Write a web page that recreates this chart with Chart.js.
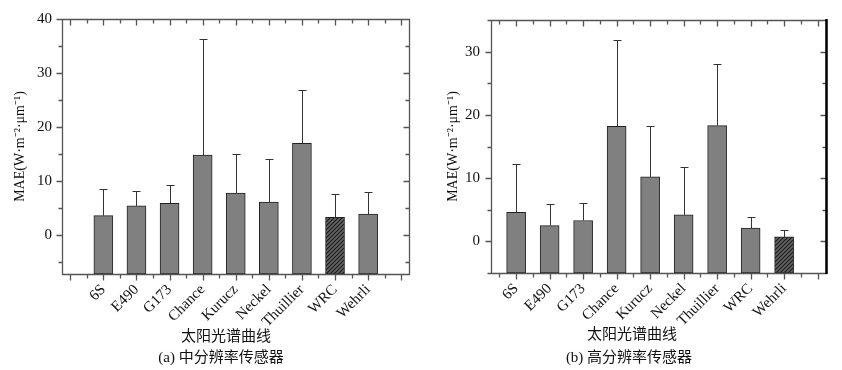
<!DOCTYPE html>
<html>
<head>
<meta charset="utf-8">
<script src="https://cdn.jsdelivr.net/npm/chart.js@4/dist/chart.umd.min.js"></script>
<style>
  body { margin: 0; background: #fff; }
  canvas { position: absolute; top: 0; }
  #chart-a { left: 0; }
  #chart-b { left: 421px; }
</style>
</head>
<body>
<canvas id="chart-a" width="421" height="370"></canvas>
<canvas id="chart-b" width="421" height="370"></canvas>
<script>
var categories = ['6S', 'E490', 'G173', 'Chance', 'Kurucz', 'Neckel', 'Thuillier', 'WRC', 'Wehrli'];

// (a) medium resolution sensor: MAE and standard deviation
var maeMid = [3.6, 5.4, 5.9, 14.8, 7.8, 6.1, 17.0, 3.3, 3.9];
var sdMid = [4.9, 2.8, 3.3, 21.5, 7.3, 8.0, 9.9, 4.4, 4.0];
var hatchMid = 'WRC';

// (b) high resolution sensor
var maeHigh = [4.6, 2.5, 3.3, 18.2, 10.2, 4.2, 18.3, 2.1, 0.7];
var sdHigh = [7.6, 3.4, 2.8, 13.7, 8.1, 7.6, 9.8, 1.7, 1.1];
var hatchHigh = 'Wehrli';

var FONT = "'Liberation Serif', 'Noto Sans CJK SC', serif";
var BAR = '#808080';

function hatchPattern() {
    var c = document.createElement('canvas');
    c.width = 4; c.height = 4;
    var g = c.getContext('2d');
    g.fillStyle = '#666';
    g.fillRect(0, 0, 4, 4);
    g.strokeStyle = '#1a1a1a';
    g.lineWidth = 1.2;
    g.beginPath();
    g.moveTo(-1, 5); g.lineTo(5, -1);
    g.moveTo(-1, 1); g.lineTo(1, -1);
    g.moveTo(3, 5); g.lineTo(5, 3);
    g.stroke();
    return g.createPattern(c, 'repeat');
}

// error bars drawn upward from the bar top
var errorBars = {
    id: 'errorBars',
    afterDatasetsDraw: function(chart, args, o) {
        var ctx = chart.ctx, x = chart.scales.x, y = chart.scales.y;
        var ds = chart.data.datasets[0];
        ctx.save();
        ctx.strokeStyle = '#333';
        ctx.lineWidth = 1;
        ds.data.forEach(function(d, i) {
            var px = Math.round(x.getPixelForValue(d.x)) + 0.5;
            var y0 = y.getPixelForValue(d.y);
            var y1 = Math.round(y.getPixelForValue(d.y + ds.errors[i])) + 0.5;
            ctx.beginPath();
            ctx.moveTo(px, y0); ctx.lineTo(px, y1);
            ctx.moveTo(px - 4, y1); ctx.lineTo(px + 4, y1);
            ctx.stroke();
        });
        ctx.restore();
    }
};

// box frame with ticks: outward on left/bottom, inward on right/top
var frameTicks = {
    id: 'frameTicks',
    afterDraw: function(chart, args, o) {
        var ctx = chart.ctx, a = chart.chartArea, x = chart.scales.x, y = chart.scales.y;
        var L = Math.round(a.left) + 0.5, R = Math.round(a.right) + 0.5;
        var T = Math.round(a.top) + 0.5, B = Math.round(a.bottom) + 0.5;
        ctx.save();
        ctx.strokeStyle = '#555';
        ctx.lineWidth = 1.3;
        ctx.beginPath();
        ctx.moveTo(L, T); ctx.lineTo(R, T); ctx.lineTo(R, B); ctx.lineTo(L, B); ctx.closePath();
        for (var v = Math.ceil(y.min / 5) * 5; v <= y.max; v += 5) {
            var py = Math.round(y.getPixelForValue(v)) + 0.5;
            var len = v % 10 === 0 ? 6 : 4;
            ctx.moveTo(L - len, py); ctx.lineTo(L, py);
            ctx.moveTo(R - len, py); ctx.lineTo(R, py);
        }
        x.ticks.forEach(function(t) {
            var px = Math.round(x.getPixelForValue(t.value)) + 0.5;
            var len = Number.isInteger(t.value) ? 6 : 4;
            ctx.moveTo(px, B); ctx.lineTo(px, B + len);
            ctx.moveTo(px, T); ctx.lineTo(px, T + len);
        });
        ctx.stroke();
        if (o.darkRight) {
            ctx.strokeStyle = '#000';
            ctx.lineWidth = 2.5;
            ctx.beginPath();
            ctx.moveTo(R, a.top - 1); ctx.lineTo(R, a.bottom + 1);
            ctx.stroke();
        }
        ctx.restore();
    }
};

var captions = {
    id: 'captions',
    afterDraw: function(chart, args, o) {
        var ctx = chart.ctx;
        ctx.save();
        ctx.fillStyle = '#111';
        ctx.font = '15px ' + FONT;
        ctx.textAlign = 'center';
        ctx.textBaseline = 'middle';
        ctx.fillText(o.title, o.titleX, o.titleY);
        ctx.fillText(o.caption, o.captionX, o.captionY);
        ctx.restore();
    }
};

function makeConfig(values, sds, hatched, p) {
    var pattern = hatchPattern();
    return {
        type: 'bar',
        data: {
            datasets: [{
                data: categories.map(function(c, i) { return { x: i + 1, y: values[i] }; }),
                errors: sds,
                base: p.yMin,
                backgroundColor: categories.map(function(c) { return c === hatched ? pattern : BAR; }),
                borderColor: '#222',
                borderWidth: 1,
                borderSkipped: false,
                barThickness: 19
            }]
        },
        options: {
            responsive: false,
            animation: false,
            devicePixelRatio: 1,
            layout: { padding: p.padding },
            scales: {
                x: {
                    type: 'linear',
                    min: p.xMin,
                    max: 10,
                    grid: { display: false, drawTicks: false },
                    border: { display: false },
                    afterFit: function(s) { s.height = p.xHeight; },
                    ticks: {
                        stepSize: 0.5,
                        autoSkip: false,
                        minRotation: 45,
                        maxRotation: 45,
                        padding: 7,
                        color: '#111',
                        font: { family: FONT, size: 15 },
                        callback: function(v) {
                            return Number.isInteger(v) && categories[v - 1] ? categories[v - 1] : '';
                        }
                    }
                },
                y: {
                    min: p.yMin,
                    max: p.yMax,
                    grid: { display: false, drawTicks: false },
                    border: { display: false },
                    afterFit: function(s) { s.width = p.yWidth; },
                    afterBuildTicks: function(s) {
                        var t = [];
                        for (var v = Math.ceil(s.min / 10) * 10; v <= s.max; v += 10) t.push({ value: v });
                        s.ticks = t;
                    },
                    ticks: {
                        padding: p.yPad,
                        color: '#111',
                        font: { family: FONT, size: 15 }
                    },
                    title: {
                        display: true,
                        text: 'MAE(W·m⁻²·μm⁻¹)',
                        color: '#111',
                        font: { family: FONT, size: 14 }
                    }
                }
            },
            plugins: {
                legend: { display: false },
                tooltip: { enabled: false },
                frameTicks: { darkRight: p.darkRight },
                captions: p.captions
            }
        },
        plugins: [errorBars, frameTicks, captions]
    };
}

window.onload = function() {
    var ctx = document.getElementById('chart-a').getContext('2d');
    window.chartA = new Chart(ctx, makeConfig(maeMid, sdMid, hatchMid, {
        yMin: -7.2, yMax: 40, xMin: 0,
        padding: { left: 8, top: 16, right: 2, bottom: 0 },
        yWidth: 54, xHeight: 96, yPad: 10, darkRight: false,
        captions: { title: '太阳光谱曲线', titleX: 226, titleY: 337,
                    caption: '(a) 中分辨率传感器', captionX: 221, captionY: 358 }
    }));

    var ctx = document.getElementById('chart-b').getContext('2d');
    window.chartB = new Chart(ctx, makeConfig(maeHigh, sdHigh, hatchHigh, {
        yMin: -5, yMax: 35, xMin: 0.5,
        padding: { left: 20, top: 16, right: 16, bottom: 0 },
        yWidth: 50, xHeight: 97, yPad: 11, darkRight: true,
        captions: { title: '太阳光谱曲线', titleX: 211, titleY: 335,
                    caption: '(b) 高分辨率传感器', captionX: 208, captionY: 358 }
    }));
};
</script>
</body>
</html>
